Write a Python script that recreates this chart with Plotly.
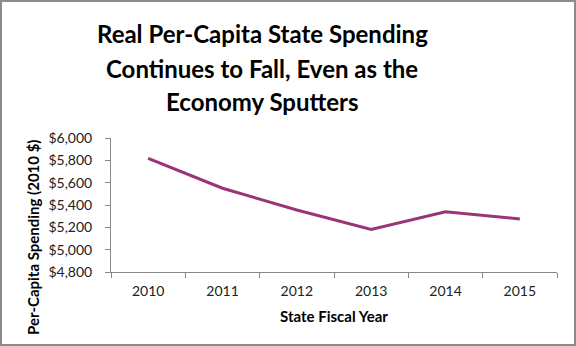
import plotly.graph_objects as go

years = ["2010", "2011", "2012", "2013", "2014", "2015"]
spending = [5818, 5550, 5355, 5182, 5340, 5275]
y_ticks = [4800, 5000, 5200, 5400, 5600, 5800, 6000]
y_tick_text = ["$" + f"{v:,}" for v in y_ticks]
title_lines = ["Real Per-Capita State Spending", "Continues to Fall, Even as the", "Economy Sputters"]

W, H = 576, 346
L, R, T, B = 111, 19, 138, 74
pw, ph = W - L - R, H - T - B

def px_x(p):
    return (p - L) / pw

def px_y(p):
    return (H - B - p) / ph

FONT = "Lato"

fig = go.Figure()
fig.add_trace(go.Scatter(
    x=years, y=spending, mode="lines",
    line=dict(color="#9a3476", width=3),
    hoverinfo="skip", showlegend=False,
))

annotations = []
for line, yc in zip(title_lines, [33, 68, 102]):
    annotations.append(dict(
        text=line, xref="paper", yref="paper", x=px_x(262), y=px_y(yc),
        xanchor="center", yanchor="middle", showarrow=False,
        font=dict(size=24, family=FONT, color="black", weight="bold"),
    ))
annotations += [
    dict(
        text="State Fiscal Year",
        xref="paper", yref="paper", x=px_x(334), y=px_y(316),
        xanchor="center", yanchor="middle", showarrow=False,
        font=dict(size=15, family=FONT, color="black", weight="bold"),
    ),
    dict(
        text="Per-Capita Spending (2010 $)",
        xref="paper", yref="paper", x=px_x(33), y=px_y(237),
        xanchor="center", yanchor="middle", showarrow=False, textangle=-90,
        font=dict(size=15, family=FONT, color="black", weight="bold"),
    ),
]

fig.update_layout(
    width=W, height=H,
    margin=dict(l=L, r=R, t=T, b=B),
    paper_bgcolor="white", plot_bgcolor="white",
    font=dict(family=FONT, color="#222222"),
    xaxis=dict(
        type="category", range=[-0.5, 5.5],
        showline=True, linecolor="#868686", linewidth=1,
        ticks="outside", tickson="boundaries", ticklen=5, tickcolor="#868686",
        showgrid=False, zeroline=False, ticklabelstandoff=6,
        tickfont=dict(size=14, family=FONT, color="#222222"),
    ),
    yaxis=dict(
        range=[4800, 6000], tickvals=y_ticks, ticktext=y_tick_text,
        showline=True, linecolor="#868686", linewidth=1,
        ticks="outside", ticklen=5, tickcolor="#868686",
        showgrid=False, zeroline=False, ticklabelstandoff=10,
        tickfont=dict(size=14, family=FONT, color="#222222"),
    ),
    shapes=[dict(
        type="rect", xref="paper", yref="paper",
        x0=px_x(1), x1=px_x(575), y0=px_y(345), y1=px_y(1),
        line=dict(color="#8c8c8c", width=2), fillcolor="rgba(0,0,0,0)",
        layer="below",
    )],
    annotations=annotations,
)

fig.write_html("out.html")
